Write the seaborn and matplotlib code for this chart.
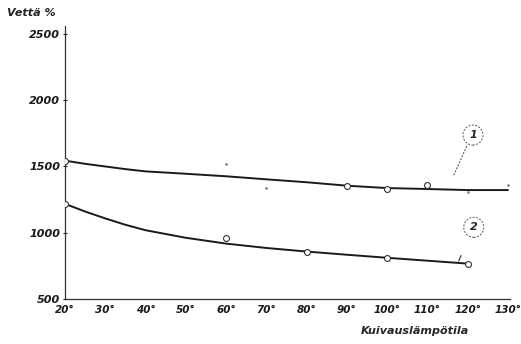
import matplotlib
matplotlib.use("Agg")
import matplotlib.pyplot as plt
import seaborn as sns
import pandas as pd

# Smooth curves
curve_x = [20, 25, 30, 35, 40, 50, 60, 70, 80, 90, 100, 110, 120, 130]
curve1_y = [1544, 1520, 1500, 1480, 1463, 1445, 1426, 1403, 1381, 1355, 1337, 1330, 1322, 1322]
curve2_x = [20, 25, 30, 35, 40, 50, 60, 70, 80, 90, 100, 110, 120]
curve2_y = [1218, 1160, 1108, 1060, 1019, 962, 918, 885, 858, 834, 811, 789, 767]

# Measured points (open circles)
pts1_x = [20, 90, 100, 110]
pts1_y = [1544, 1352, 1330, 1359]
dots1_x = [60, 70, 120, 130]
dots1_y = [1515, 1337, 1307, 1359]
pts2_x = [20, 60, 80, 100, 120]
pts2_y = [1218, 959, 855, 811, 767]

x_ticks = [20, 30, 40, 50, 60, 70, 80, 90, 100, 110, 120, 130]
x_tick_labels = [f"{v}°" for v in x_ticks]
y_ticks = [500, 1000, 1500, 2000, 2500]

sns.set_style("ticks")
plt.rcParams['font.family'] = ['DejaVu Sans']

fig = plt.figure(figsize=(5.21, 3.44), dpi=100)
ax = fig.add_axes([65/521, 1 - 299/344, 445/521, (299 - 26)/344])

fs = dict(fontsize=8, fontweight='bold', fontstyle='italic')
fsx = dict(fontsize=7.5, fontweight='bold', fontstyle='italic')

c1 = pd.DataFrame({"x": curve_x, "y": curve1_y})
c2 = pd.DataFrame({"x": curve2_x, "y": curve2_y})
sns.lineplot(data=c1, x="x", y="y", ax=ax, color="#1a1a1a", lw=1.4)
sns.lineplot(data=c2, x="x", y="y", ax=ax, color="#1a1a1a", lw=1.4)

p1 = pd.DataFrame({"x": pts1_x, "y": pts1_y})
p2 = pd.DataFrame({"x": pts2_x, "y": pts2_y})
d1 = pd.DataFrame({"x": dots1_x, "y": dots1_y})
for df in (p1, p2):
    sns.scatterplot(data=df, x="x", y="y", ax=ax, s=18, facecolor="white",
                    edgecolor="#333333", linewidth=0.8, zorder=3)
sns.scatterplot(data=d1, x="x", y="y", ax=ax, s=4, color="#888888",
                linewidth=0, zorder=3)

# circled labels with leaders
ax.annotate("", xy=(116.3, 1418), xytext=(120.0, 1670),
            arrowprops=dict(arrowstyle="-", ls=(0, (1, 2)), color="#555555", lw=0.8))
ax.text(121.3, 1737, "1", ha="center", va="center", **fs,
        bbox=dict(boxstyle="circle,pad=0.45", fc="white", ec="#555555", ls=(0, (2, 1.5)), lw=0.7))
ax.annotate("", xy=(117.5, 767), xytext=(118.6, 848),
            arrowprops=dict(arrowstyle="-", color="#333333", lw=0.8))
ax.text(121.5, 1041, "2", ha="center", va="center", **fs,
        bbox=dict(boxstyle="circle,pad=0.45", fc="white", ec="#555555", ls=(0, (2, 1.5)), lw=0.7))

ax.set_xlim(20, 130.5)
ax.set_ylim(500, 2560)
ax.set_xticks(x_ticks)
ax.set_xticklabels(x_tick_labels, **fsx)
ax.set_yticks(y_ticks)
ax.set_yticklabels([str(v) for v in y_ticks], **fs)
ax.tick_params(axis='both', direction='inout', length=3, width=0.8, pad=2, colors="#1a1a1a")
ax.tick_params(axis='x', length=0, pad=4)
for s in ("top", "right"):
    ax.spines[s].set_visible(False)
for s in ("left", "bottom"):
    ax.spines[s].set_color("#333333")
    ax.spines[s].set_linewidth(0.9)
ax.set_xlabel("")
ax.set_ylabel("")

fig.text(7/521, 1 - 13/344, "Vettä %", ha="left", va="center", **fs)
fig.text(415/521, 1 - 331/344, "Kuivauslämpötila", ha="center", va="center", **fs)

fig.savefig("out.png", dpi=100, facecolor="white")
